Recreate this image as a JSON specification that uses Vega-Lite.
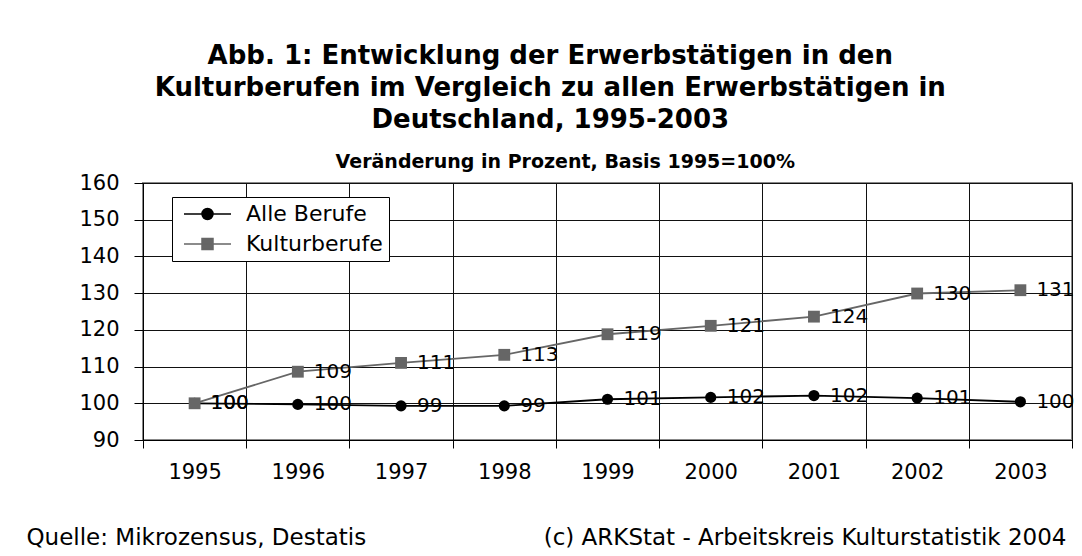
{
  "$schema": "https://vega.github.io/schema/vega-lite/v6.json",
  "background": "white",
  "padding": {"left": 25, "top": 43, "right": 5, "bottom": 5},
  "title": {
    "text": ["Abb. 1: Entwicklung der Erwerbstätigen in den", "Kulturberufen im Vergleich zu allen Erwerbstätigen  in", "Deutschland, 1995-2003"],
    "font": "DejaVu Sans", "fontSize": 26, "fontWeight": "bold", "lineHeight": 32,
    "anchor": "middle", "frame": "bounds", "offset": 19, "color": "black"
  },
  "config": {
    "view": {"stroke": "#888888", "strokeWidth": 2},
    "axis": {
      "labelFont": "DejaVu Sans", "labelFontSize": 21, "labelColor": "black",
      "titleFont": "DejaVu Sans", "titleFontSize": 23, "titleFontWeight": "normal", "titleColor": "black",
      "domainColor": "black", "domainWidth": 1, "tickColor": "black", "tickWidth": 1,
      "gridColor": "#111111", "gridWidth": 1, "gridOpacity": 1
    },
    "legend": {
      "labelFont": "DejaVu Sans", "labelFontSize": 22, "labelColor": "black"
    }
  },
  "vconcat": [
    {
      "width": 929,
      "height": 257,
      "title": {
        "text": "Veränderung in Prozent, Basis 1995=100%",
        "font": "DejaVu Sans", "fontSize": 19, "fontWeight": "bold", "color": "black",
        "anchor": "middle", "frame": "bounds", "dx": 15, "offset": 0
      },
      "data": {
        "values": [
          {"jahr": "1995", "serie": "Alle Berufe", "wert": 100},
          {"jahr": "1996", "serie": "Alle Berufe", "wert": 99.7},
          {"jahr": "1997", "serie": "Alle Berufe", "wert": 99.3},
          {"jahr": "1998", "serie": "Alle Berufe", "wert": 99.3},
          {"jahr": "1999", "serie": "Alle Berufe", "wert": 101.1},
          {"jahr": "2000", "serie": "Alle Berufe", "wert": 101.6},
          {"jahr": "2001", "serie": "Alle Berufe", "wert": 102.1},
          {"jahr": "2002", "serie": "Alle Berufe", "wert": 101.4},
          {"jahr": "2003", "serie": "Alle Berufe", "wert": 100.4},
          {"jahr": "1995", "serie": "Kulturberufe", "wert": 100},
          {"jahr": "1996", "serie": "Kulturberufe", "wert": 108.6},
          {"jahr": "1997", "serie": "Kulturberufe", "wert": 111.0},
          {"jahr": "1998", "serie": "Kulturberufe", "wert": 113.2},
          {"jahr": "1999", "serie": "Kulturberufe", "wert": 118.8},
          {"jahr": "2000", "serie": "Kulturberufe", "wert": 121.1},
          {"jahr": "2001", "serie": "Kulturberufe", "wert": 123.6},
          {"jahr": "2002", "serie": "Kulturberufe", "wert": 129.9},
          {"jahr": "2003", "serie": "Kulturberufe", "wert": 130.8}
        ]
      },
      "encoding": {
        "x": {
          "field": "jahr", "type": "ordinal",
          "scale": {"type": "band", "paddingInner": 0, "paddingOuter": 0},
          "axis": {
            "labelAngle": 0, "tickBand": "extent", "grid": true, "tickSize": 8, "labelPadding": 13,
            "title": "Quelle: Mikrozensus, Destatis",
            "titleX": -117, "titleY": 97, "titleAlign": "left", "titleBaseline": "middle", "titleAngle": 0
          }
        },
        "y": {
          "field": "wert", "type": "quantitative",
          "scale": {"domain": [90, 160], "nice": false, "zero": false},
          "axis": {
            "values": [90, 100, 110, 120, 130, 140, 150, 160], "grid": true, "tickSize": 9, "labelPadding": 15,
            "title": "(c) ARKStat - Arbeitskreis Kulturstatistik 2004",
            "titleAngle": 0, "titleX": 923, "titleY": 354, "titleAlign": "right", "titleBaseline": "middle"
          }
        },
        "color": {
          "field": "serie", "type": "nominal",
          "scale": {"domain": ["Alle Berufe", "Kulturberufe"], "range": ["#000000", "#666666"]},
          "legend": {
            "title": null, "orient": "none", "legendX": 29, "legendY": 14,
            "strokeColor": "black", "fillColor": "white", "padding": 6,
            "symbolSize": 100, "labelOffset": 46, "rowPadding": 8,
            "encode": {
              "symbols": {
                "update": {
                  "shape": {"signal": "datum.value == 'Alle Berufe' ? 'M-1,0H8.4M2.6,0A1.1,1.1 0 1,0 4.8,0A1.1,1.1 0 1,0 2.6,0Z' : 'M-1,0H8.4M2.6,-1.1H4.8V1.1H2.6Z'"},
                  "fill": {"signal": "datum.value == 'Alle Berufe' ? '#000000' : '#666666'"},
                  "stroke": {"signal": "datum.value == 'Alle Berufe' ? '#000000' : '#666666'"},
                  "strokeWidth": {"value": 1.5},
                  "opacity": {"value": 1}
                }
              }
            }
          }
        }
      },
      "layer": [
        {
          "mark": {"type": "line", "strokeWidth": 1.8}
        },
        {
          "transform": [{"filter": "datum.serie == 'Alle Berufe'"}],
          "mark": {"type": "point", "shape": "circle", "filled": true, "opacity": 1, "size": 125}
        },
        {
          "transform": [{"filter": "datum.serie == 'Kulturberufe'"}],
          "mark": {"type": "point", "shape": "square", "filled": true, "opacity": 1, "size": 140}
        },
        {
          "mark": {"type": "text", "align": "left", "baseline": "middle", "dx": 16, "font": "DejaVu Sans", "fontSize": 20, "color": "black"},
          "encoding": {
            "text": {"field": "wert", "type": "quantitative", "format": ".0f"},
            "color": {"value": "black"}
          }
        }
      ]
    }
  ]
}
